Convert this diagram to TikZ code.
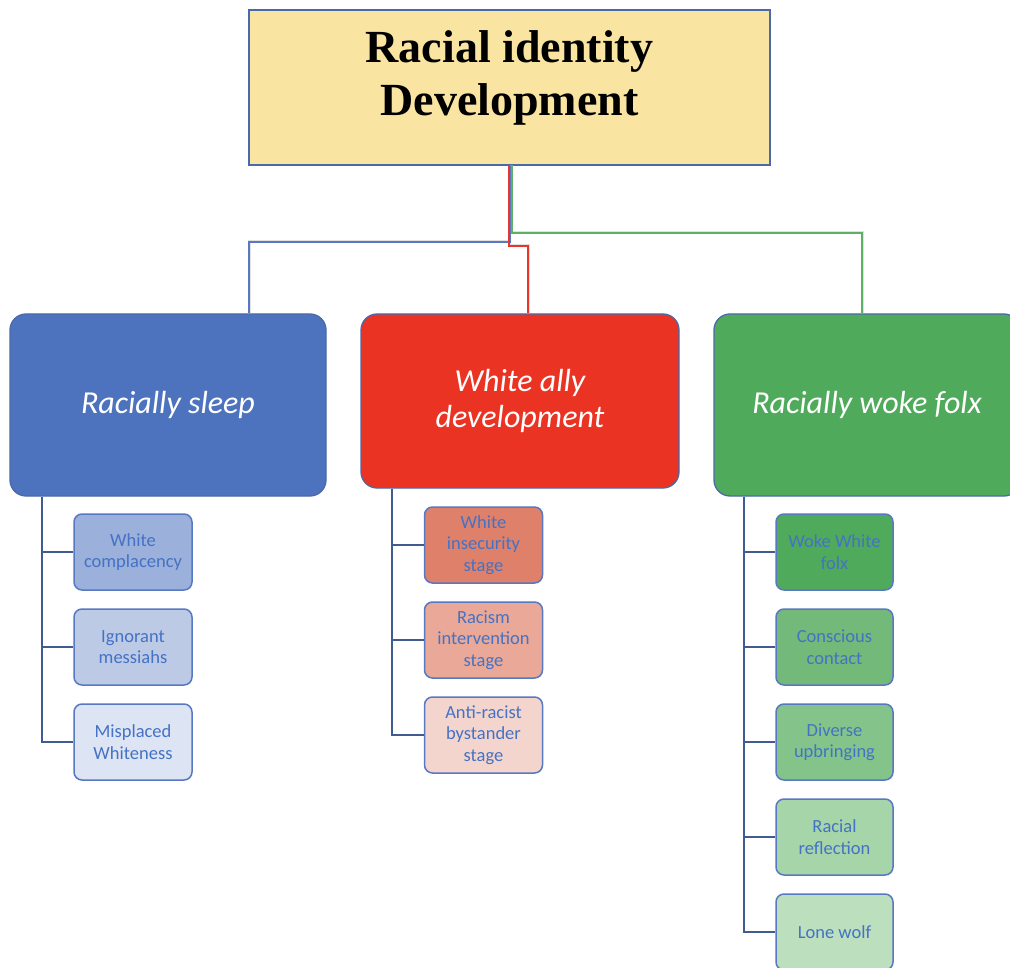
\documentclass[tikz,border=0pt]{standalone}
\usepackage{fontspec}
\setmainfont{Carlito}
\newfontfamily\titlefont{Liberation Serif}
\usetikzlibrary{calc}

\definecolor{titlefill}{HTML}{F9E4A1}
\definecolor{frameblue}{HTML}{4A69A8}
\definecolor{sleepfill}{HTML}{4E73BE}
\definecolor{allyfill}{HTML}{EA3323}
\definecolor{wokefill}{HTML}{4FAB5B}
\definecolor{linkblue}{HTML}{5878C2}
\definecolor{linkred}{HTML}{E8372A}
\definecolor{linkgreen}{HTML}{5CB067}
\definecolor{subline}{HTML}{3F5B92}
\definecolor{subtext}{HTML}{4472C4}
\definecolor{sA}{HTML}{9BB0DA}
\definecolor{sB}{HTML}{BCCAE6}
\definecolor{sC}{HTML}{DDE4F3}
\definecolor{rA}{HTML}{DF806A}
\definecolor{rB}{HTML}{E9A898}
\definecolor{rC}{HTML}{F4D5CD}
\definecolor{gA}{HTML}{4FAB5B}
\definecolor{gB}{HTML}{72B97A}
\definecolor{gC}{HTML}{84C48B}
\definecolor{gD}{HTML}{A6D5A9}
\definecolor{gE}{HTML}{BCDFBE}

\tikzset{
  titlebox/.style={draw=frameblue, line width=1.6pt, fill=titlefill,
    minimum width=521pt, minimum height=155pt, inner sep=0pt,
    text depth=28pt,
    align=center, font=\titlefont\bfseries\fontsize{46}{53}\selectfont},
  groupbox/.style={draw=frameblue, line width=1.3pt, rounded corners=16pt,
    inner sep=0pt, align=center, text=white,
    font=\itshape\fontsize{32}{36}\selectfont},
  leafbox/.style={draw=linkblue, line width=1.5pt, rounded corners=8pt,
    minimum width=118pt, minimum height=76pt, inner sep=0pt,
    align=center, text=subtext, font=\fontsize{18.5}{21.5}\selectfont},
  linkshadow/.style={draw=black!35, line width=3pt, opacity=0.35},
  link/.style={line width=2pt},
  branch/.style={draw=subline, line width=1.8pt},
}

\begin{document}
\begin{tikzpicture}[x=1pt, y=-1pt]
\useasboundingbox (0,0) rectangle (1010,968);

% top node
\node[titlebox] (top) at (509.5,87.5) {Racial identity\\Development};

% three groups
\node[groupbox, fill=sleepfill, minimum width=316pt, minimum height=182pt] (sleep) at (168,405) {Racially sleep};
\node[groupbox, fill=allyfill, minimum width=318pt, minimum height=174pt] (ally) at (520,401) {White ally\\development};
\node[groupbox, fill=wokefill, minimum width=306pt, minimum height=182pt] (woke) at (867,405) {Racially woke folx};

% bend points of the links from the top node
\coordinate (bj) at (249,242);
\coordinate (rj) at (528,246);
\coordinate (gj) at (862,233);
\coordinate (rs) at (509,165);
\coordinate (gs) at (511.5,165);

% soft shadows under the links
\begin{scope}[shift={(2.5,2.5)}]
\draw[linkshadow] (top.south) |- (bj) -- (bj |- sleep.north);
\draw[linkshadow] (rs) |- (rj) -- (rj |- ally.north);
\draw[linkshadow] (gs) |- (gj) -- (gj |- woke.north);
\end{scope}

\draw[link, linkblue] (top.south) |- (bj) -- (bj |- sleep.north);
\draw[link, linkred] (rs) |- (rj) -- (rj |- ally.north);
\draw[link, linkgreen] (gs) |- (gj) -- (gj |- woke.north);

% racially sleep leaves
\node[leafbox, fill=sA] (s1) at (133,552) {White\\complacency};
\node[leafbox, fill=sB] (s2) at (133,647) {Ignorant\\messiahs};
\node[leafbox, fill=sC] (s3) at (133,742) {Misplaced\\Whiteness};
\draw[branch] ($(sleep.south west)+(33,0)$) |- (s3.west);
\draw[branch] (s1.west) -- +(-31,0);
\draw[branch] (s2.west) -- +(-31,0);

% white ally leaves
\node[leafbox, fill=rA] (r1) at (483.5,545) {White\\insecurity\\stage};
\node[leafbox, fill=rB] (r2) at (483.5,640) {Racism\\intervention\\stage};
\node[leafbox, fill=rC] (r3) at (483.5,735) {Anti-racist\\bystander\\stage};
\draw[branch] ($(ally.south west)+(32,0)$) |- (r3.west);
\draw[branch] (r1.west) -- +(-31,0);
\draw[branch] (r2.west) -- +(-31,0);

% racially woke leaves
\node[leafbox, fill=gA, minimum width=117pt] (g1) at (834.5,552) {Woke White\\folx};
\node[leafbox, fill=gB, minimum width=117pt] (g2) at (834.5,647) {Conscious\\contact};
\node[leafbox, fill=gC, minimum width=117pt] (g3) at (834.5,742) {Diverse\\upbringing};
\node[leafbox, fill=gD, minimum width=117pt] (g4) at (834.5,837) {Racial\\reflection};
\node[leafbox, fill=gE, minimum width=117pt] (g5) at (834.5,932) {Lone wolf};
\draw[branch] ($(woke.south west)+(31,0)$) |- (g5.west);
\draw[branch] (g1.west) -- +(-31,0);
\draw[branch] (g2.west) -- +(-31,0);
\draw[branch] (g3.west) -- +(-31,0);
\draw[branch] (g4.west) -- +(-31,0);
\end{tikzpicture}
\end{document}
